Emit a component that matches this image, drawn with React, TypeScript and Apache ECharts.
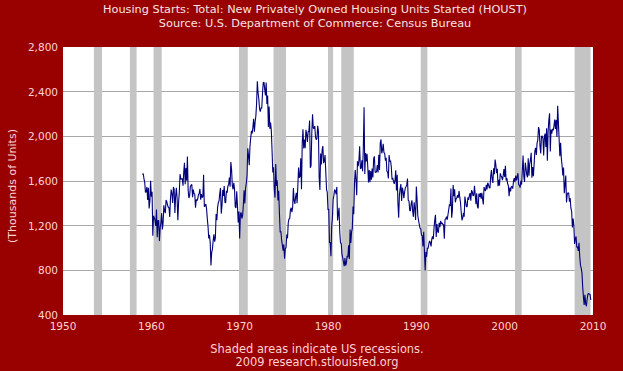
import React, { useEffect, useRef } from "react";
import * as echarts from "echarts";

const startYear = 1959;

const starts1959to1969 = [
  1657, 1667, 1620, 1590, 1498, 1503, 1547, 1430, 1540, 1355, 1416, 1601,
  1460, 1503, 1109, 1289, 1271, 1247, 1197, 1344, 1097, 1246, 1246, 1063,
  1183, 1226, 1312, 1166, 1228, 1382, 1335, 1312, 1429, 1415, 1385, 1365,
  1361, 1278, 1443, 1524, 1483, 1404, 1547, 1525, 1313, 1463, 1539, 1448,
  1249, 1405, 1498, 1661, 1617, 1618, 1623, 1557, 1677, 1764, 1571, 1717,
  1603, 1820, 1517, 1448, 1467, 1550, 1562, 1569, 1455, 1524, 1486, 1484,
  1361, 1433, 1423, 1438, 1478, 1488, 1529, 1432, 1482, 1452, 1460, 1656,
  1370, 1378, 1394, 1352, 1265, 1194, 1086, 1119, 1046, 843, 961, 990,
  1067, 1123, 1056, 1091, 1304, 1248, 1364, 1407, 1421, 1491, 1538, 1308,
  1380, 1520, 1466, 1554, 1408, 1405, 1512, 1495, 1556, 1569, 1630, 1548,
  1769, 1705, 1561, 1524, 1583, 1528, 1368, 1358, 1507, 1381, 1229, 1327,
];

const starts1970s = [
  1085, 1305, 1319, 1264, 1290, 1385, 1517, 1399, 1534, 1580, 1647, 1893,
  1828, 1741, 1910, 1986, 2049, 2026, 2083, 2158, 2041, 2128, 2182, 2295,
  2494, 2390, 2334, 2249, 2221, 2254, 2252, 2382, 2481, 2485, 2421, 2366,
  2481, 2289, 2365, 2084, 2266, 2067, 2123, 2051, 1874, 1677, 1724, 1526,
  1451, 1752, 1555, 1607, 1426, 1513, 1316, 1142, 1150, 1070, 1026, 975,
  1032, 904, 993, 1005, 1121, 1087, 1226, 1260, 1264, 1344, 1360, 1321,
  1367, 1538, 1421, 1395, 1459, 1495, 1401, 1550, 1720, 1629, 1641, 1804,
  1527, 1943, 2063, 1892, 1971, 1893, 2058, 2020, 1949, 2042, 2042, 2142,
  1718, 1738, 2032, 2197, 2075, 2070, 2092, 1996, 1970, 1981, 2094, 2044,
  1630, 1520, 1847, 1748, 1876, 1913, 1760, 1778, 1832, 1681, 1524, 1498,
];

const starts1980s = [
  1341, 1350, 1047, 1051, 927, 1196, 1269, 1436, 1471, 1523, 1510, 1482,
  1547, 1246, 1306, 1360, 1140, 1045, 1041, 940, 911, 873, 837, 910,
  843, 866, 931, 917, 1025, 902, 1166, 1046, 1144, 1173, 1372, 1303,
  1586, 1699, 1606, 1472, 1776, 1733, 1785, 1910, 1710, 1715, 1785, 1688,
  1897, 2260, 1663, 1851, 1774, 1843, 1732, 1586, 1698, 1590, 1689, 1612,
  1711, 1632, 1800, 1821, 1680, 1676, 1684, 1743, 1676, 1834, 1698, 1942,
  1972, 1848, 1876, 1933, 1854, 1847, 1782, 1807, 1687, 1681, 1623, 1833,
  1774, 1784, 1726, 1614, 1628, 1594, 1575, 1605, 1695, 1515, 1656, 1400,
  1271, 1473, 1532, 1573, 1421, 1541, 1509, 1447, 1497, 1539, 1549, 1565,
  1622, 1425, 1422, 1339, 1331, 1397, 1427, 1332, 1279, 1410, 1351, 1251,
];

const starts1990s = [
  1551, 1437, 1289, 1248, 1212, 1177, 1171, 1115, 1110, 1014, 1145, 969,
  798, 965, 921, 1001, 996, 1036, 1063, 1049, 1015, 1079, 1103, 1079,
  1176, 1250, 1297, 1099, 1214, 1145, 1139, 1226, 1186, 1244, 1214, 1227,
  1210, 1210, 1083, 1258, 1260, 1280, 1254, 1300, 1343, 1392, 1376, 1533,
  1272, 1337, 1564, 1465, 1526, 1409, 1439, 1450, 1474, 1450, 1511, 1455,
  1407, 1316, 1249, 1267, 1314, 1281, 1461, 1416, 1369, 1369, 1452, 1431,
  1467, 1491, 1424, 1516, 1504, 1467, 1472, 1557, 1475, 1392, 1489, 1370,
  1355, 1486, 1457, 1492, 1442, 1494, 1437, 1390, 1546, 1520, 1510, 1566,
  1525, 1584, 1567, 1540, 1536, 1641, 1698, 1614, 1582, 1715, 1660, 1792,
  1748, 1670, 1710, 1553, 1611, 1559, 1669, 1648, 1635, 1608, 1648, 1708,
];

const starts2000s = [
  1636, 1737, 1604, 1626, 1575, 1559, 1463, 1541, 1507, 1549, 1551, 1532,
  1600, 1625, 1590, 1649, 1605, 1636, 1670, 1567, 1562, 1540, 1602, 1568,
  1698, 1829, 1642, 1592, 1764, 1717, 1655, 1633, 1804, 1648, 1753, 1788,
  1853, 1629, 1726, 1643, 1751, 1867, 1897, 1833, 1939, 1967, 2083, 2057,
  1911, 1846, 1998, 2003, 1981, 1828, 2002, 2024, 1905, 2072, 1782, 2042,
  2144, 2207, 1864, 2061, 2025, 2068, 2054, 2095, 2151, 2065, 2147, 1994,
  2273, 2119, 1969, 1821, 1942, 1802, 1737, 1650, 1720, 1491, 1570, 1649,
  1409, 1480, 1495, 1490, 1415, 1448, 1354, 1330, 1183, 1264, 1197, 1037,
  1084, 1103, 1005, 1013, 973, 1046, 923, 844, 820, 777, 652, 560,
  490, 582, 505, 478, 540, 585, 594, 586, 585, 534,
];

const recessions: [number, number][] = [
  [1953.5, 1954.42],
  [1957.58, 1958.33],
  [1960.25, 1961.17],
  [1969.92, 1970.92],
  [1973.83, 1975.25],
  [1980.0, 1980.58],
  [1981.5, 1982.92],
  [1990.5, 1991.25],
  [2001.17, 2001.92],
  [2007.92, 2009.72],
];

const yTicks = [400, 800, 1200, 1600, 2000, 2400, 2800];
const xTicks = [1950, 1960, 1970, 1980, 1990, 2000, 2010];

const titleLines = [
  "Housing Starts: Total: New Privately Owned Housing Units Started (HOUST)",
  "Source: U.S. Department of Commerce: Census Bureau",
];
const footerLines = [
  "Shaded areas indicate US recessions.",
  "2009 research.stlouisfed.org",
];
const yAxisTitle = "(Thousands of Units)";

const FONT = "DejaVu Sans";
const TEXT = "#ffd2d2";

export default function App() {
  const ref = useRef<HTMLDivElement>(null);
  useEffect(() => {
    document.body.style.margin = "0";
    if (!ref.current) return;
    const chart = echarts.init(ref.current, undefined, { renderer: "svg" });
    const all = [
      ...starts1959to1969,
      ...starts1970s,
      ...starts1980s,
      ...starts1990s,
      ...starts2000s,
    ];
    const data = all.map((v, i) => [startYear + i / 12, v]);
    chart.setOption({
      animation: false,
      backgroundColor: "#990000",
      grid: {
        left: 63,
        right: 30,
        top: 47,
        bottom: 56,
        show: true,
        backgroundColor: "#ffffff",
        borderWidth: 0,
      },
      xAxis: {
        type: "value",
        min: xTicks[0],
        max: xTicks[xTicks.length - 1],
        interval: 10,
        axisLine: { show: false },
        axisTick: { show: false },
        splitLine: { show: false },
        axisLabel: {
          color: TEXT,
          fontFamily: FONT,
          fontSize: 10.5,
          margin: 5,
          formatter: (v: number) => String(v),
        },
      },
      yAxis: {
        type: "value",
        min: yTicks[0],
        max: yTicks[yTicks.length - 1],
        interval: 400,
        axisLine: { show: false },
        axisTick: { show: false },
        splitLine: {
          show: true,
          showMinLine: false,
          showMaxLine: false,
          lineStyle: { color: "#a8a8a8", width: 1 },
        },
        axisLabel: {
          color: TEXT,
          fontFamily: FONT,
          fontSize: 10.5,
          margin: 5,
          formatter: (v: number) => v.toLocaleString("en-US"),
        },
      },
      graphic: [
        ...titleLines.map((t, i) => ({
          type: "text",
          x: 315,
          y: 9 + i * 14.5,
          style: {
            text: t,
            fill: "#f6e4e4",
            font: `11.3px "${FONT}"`,
            textAlign: "center",
            textVerticalAlign: "middle",
          },
        })),
        ...footerLines.map((t, i) => ({
          type: "text",
          x: 317,
          y: 349 + i * 13,
          style: {
            text: t,
            fill: TEXT,
            font: `11.4px "${FONT}"`,
            textAlign: "center",
            textVerticalAlign: "middle",
          },
        })),
        {
          type: "text",
          x: 12,
          y: 186,
          rotation: Math.PI / 2,
          style: {
            text: yAxisTitle,
            fill: TEXT,
            font: `11px "${FONT}"`,
            textAlign: "center",
            textVerticalAlign: "middle",
          },
        },
      ],
      series: [
        {
          type: "line",
          data: [],
          z: 1,
          markArea: {
            silent: true,
            itemStyle: { color: "#c4c4c4", opacity: 1 },
            data: recessions.map(([a, b]) => [{ xAxis: a }, { xAxis: b }]),
          },
        },
        {
          type: "line",
          data,
          z: 3,
          showSymbol: false,
          symbol: "none",
          lineStyle: { color: "#00007a", width: 1.1 },
        },
      ],
    });
    return () => chart.dispose();
  }, []);
  return <div ref={ref} style={{ width: 623, height: 371 }} />;
}
